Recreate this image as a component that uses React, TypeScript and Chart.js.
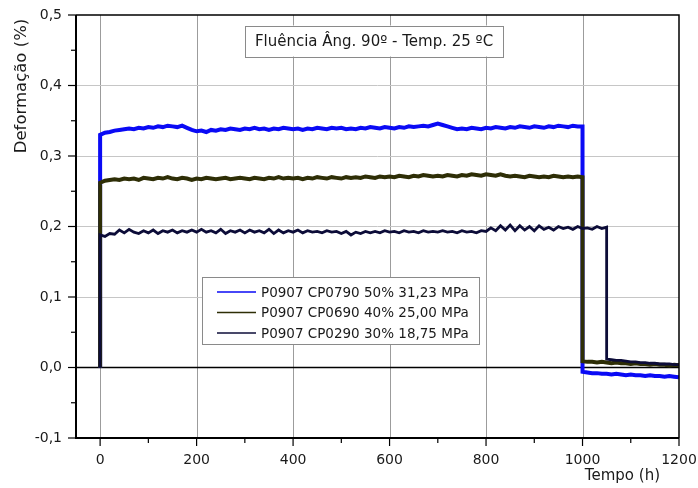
import React, { useEffect, useRef } from 'react';
import { Chart, registerables } from 'chart.js';

Chart.register(...registerables);

// ---- Data ----
const START_HOUR = 0;
const START_VALUE = 0;

const HOLD_HOURS = [
  0, 10, 20, 30, 40, 50, 60, 70, 80, 90,
  100, 110, 120, 130, 140, 150, 160, 170, 180, 190,
  200, 210, 220, 230, 240, 250, 260, 270, 280, 290,
  300, 310, 320, 330, 340, 350, 360, 370, 380, 390,
  400, 410, 420, 430, 440, 450, 460, 470, 480, 490,
  500, 510, 520, 530, 540, 550, 560, 570, 580, 590,
  600, 610, 620, 630, 640, 650, 660, 670, 680, 690,
  700, 710, 720, 730, 740, 750, 760, 770, 780, 790,
  800, 810, 820, 830, 840, 850, 860, 870, 880, 890,
  900, 910, 920, 930, 940, 950, 960, 970, 980, 990,
  1000,
];
const NAVY_EXTRA_HOLD_HOURS = [1010, 1020, 1030, 1040, 1050];

const RECOVERY_HOURS = [
  1000, 1010, 1020, 1030, 1040, 1050, 1060, 1070, 1080, 1090,
  1100, 1110, 1120, 1130, 1140, 1150, 1160, 1170, 1180, 1190, 1200,
];
const NAVY_RECOVERY_HOURS = [
  1050, 1060, 1070, 1080, 1090, 1100, 1110, 1120, 1130, 1140,
  1150, 1160, 1170, 1180, 1190, 1200,
];

const BLUE_HOLD = [
  0.330, 0.333, 0.334, 0.336, 0.337, 0.338, 0.339, 0.338, 0.340, 0.339,
  0.341, 0.340, 0.342, 0.341, 0.343, 0.342, 0.341, 0.343, 0.340, 0.337,
  0.335, 0.336, 0.334, 0.337, 0.336, 0.338, 0.337, 0.339, 0.338, 0.337,
  0.339, 0.338, 0.340, 0.338, 0.339, 0.337, 0.339, 0.338, 0.340, 0.339,
  0.338, 0.339, 0.337, 0.339, 0.338, 0.340, 0.339, 0.338, 0.340, 0.339,
  0.340, 0.338, 0.339, 0.338, 0.340, 0.339, 0.341, 0.340, 0.339, 0.341,
  0.340, 0.339, 0.341, 0.340, 0.342, 0.341, 0.342, 0.343, 0.342, 0.344,
  0.346, 0.344, 0.342, 0.340, 0.338, 0.339, 0.338, 0.340, 0.339, 0.338,
  0.340, 0.339, 0.341, 0.340, 0.339, 0.341, 0.340, 0.342, 0.341, 0.340,
  0.342, 0.341, 0.340, 0.342, 0.341, 0.343, 0.342, 0.341, 0.343, 0.342,
  0.342,
];
const BLUE_RECOVERY = [
  -0.006, -0.007, -0.008, -0.008, -0.009, -0.009, -0.010, -0.009, -0.010, -0.011,
  -0.010, -0.011, -0.011, -0.012, -0.011, -0.012, -0.012, -0.013, -0.012, -0.013, -0.014,
];

const OLIVE_HOLD = [
  0.262, 0.265, 0.266, 0.267, 0.266, 0.268, 0.267, 0.268, 0.266, 0.269,
  0.268, 0.267, 0.269, 0.268, 0.270, 0.268, 0.267, 0.269, 0.268, 0.266,
  0.268, 0.267, 0.269, 0.268, 0.267, 0.268, 0.269, 0.267, 0.268, 0.269,
  0.268, 0.267, 0.269, 0.268, 0.267, 0.269, 0.268, 0.270, 0.268, 0.269,
  0.268, 0.269, 0.267, 0.269, 0.268, 0.270, 0.269, 0.268, 0.270, 0.269,
  0.268, 0.270, 0.269, 0.270, 0.269, 0.271, 0.270, 0.269, 0.271, 0.270,
  0.271, 0.270, 0.272, 0.271, 0.270, 0.272, 0.271, 0.273, 0.272, 0.271,
  0.272, 0.271, 0.273, 0.272, 0.271, 0.273, 0.272, 0.274, 0.273, 0.272,
  0.274, 0.273, 0.272, 0.274, 0.272, 0.271, 0.272, 0.271, 0.270, 0.272,
  0.271, 0.270, 0.271, 0.270, 0.272, 0.271, 0.270, 0.271, 0.270, 0.271,
  0.270,
];
const OLIVE_RECOVERY = [
  0.009, 0.008, 0.008, 0.007, 0.008, 0.007, 0.006, 0.007, 0.006, 0.006,
  0.005, 0.006, 0.005, 0.005, 0.004, 0.005, 0.004, 0.004, 0.003, 0.004, 0.003,
];

const NAVY_HOLD = [
  0.188, 0.186, 0.190, 0.189, 0.195, 0.191, 0.196, 0.192, 0.190, 0.194,
  0.191, 0.195, 0.190, 0.194, 0.192, 0.195, 0.191, 0.194, 0.192, 0.195,
  0.192, 0.196, 0.192, 0.194, 0.191, 0.196, 0.190, 0.194, 0.192, 0.195,
  0.191, 0.195, 0.192, 0.194, 0.191, 0.196, 0.190, 0.195, 0.191, 0.194,
  0.192, 0.195, 0.191, 0.194, 0.192, 0.193, 0.191, 0.194, 0.192, 0.193,
  0.190, 0.193, 0.188, 0.192, 0.190, 0.193, 0.191, 0.193, 0.191, 0.194,
  0.192, 0.193, 0.191, 0.194, 0.192, 0.193, 0.191, 0.194, 0.192, 0.193,
  0.192, 0.194, 0.192, 0.193, 0.191, 0.194, 0.192, 0.193, 0.191, 0.194,
  0.193, 0.198, 0.194, 0.201, 0.195, 0.202, 0.194, 0.201, 0.195, 0.200,
  0.194, 0.201, 0.196, 0.199, 0.195, 0.200, 0.197, 0.199, 0.196, 0.200,
  0.197, 0.198, 0.196, 0.200, 0.197, 0.199,
];
const NAVY_RECOVERY = [
  0.012, 0.011, 0.010, 0.010, 0.009, 0.008, 0.008, 0.007, 0.007, 0.006,
  0.006, 0.005, 0.005, 0.005, 0.004, 0.004,
];

const SERIES_LABELS = [
  'P0907 CP0790 50% 31,23 MPa',
  'P0907 CP0690 40% 25,00 MPa',
  'P0907 CP0290 30% 18,75 MPa',
];
const SERIES_COLORS = ['#0a0af5', '#2e2e06', '#0c0c38'];

const X_TICKS = [0, 100, 200, 300, 400, 500, 600, 700, 800, 900, 1000, 1100, 1200];
const X_LABELED = [0, 200, 400, 600, 800, 1000, 1200];
const Y_TICKS = [-0.1, -0.05, 0, 0.05, 0.1, 0.15, 0.2, 0.25, 0.3, 0.35, 0.4, 0.45, 0.5];
const Y_LABELED = [-0.1, 0, 0.1, 0.2, 0.3, 0.4, 0.5];

const TITLE_TEXT = 'Fluência Âng. 90º - Temp. 25 ºC';
const X_TITLE = 'Tempo (h)';
const Y_TITLE = 'Deformação (%)';

const FONT = '"DejaVu Sans", Verdana, sans-serif';

function buildSeries(holdHours: number[], hold: number[], recHours: number[], rec: number[]) {
  const pts: { x: number; y: number }[] = [{ x: START_HOUR, y: START_VALUE }];
  holdHours.forEach((h, i) => pts.push({ x: h, y: hold[i] }));
  recHours.forEach((h, i) => pts.push({ x: h, y: rec[i] }));
  return pts;
}

const isIn = (list: number[], v: number) => list.some((l) => Math.abs(l - v) < 1e-6);

const decorPlugin = {
  id: 'decor',
  beforeDatasetsDraw(chart: any) {
    const { ctx, chartArea: a, scales } = chart;
    const x = scales.x;
    const y = scales.y;
    ctx.save();
    ctx.strokeStyle = '#9c9c9c';
    ctx.lineWidth = 1;
    X_LABELED.forEach((v) => {
      if (v === 1200) return;
      const px = Math.round(x.getPixelForValue(v)) + 0.5;
      ctx.beginPath();
      ctx.moveTo(px, a.top);
      ctx.lineTo(px, a.bottom);
      ctx.stroke();
    });
    ctx.strokeStyle = '#c6c6c6';
    Y_LABELED.forEach((v) => {
      if (v <= -0.1 + 1e-6 || v >= 0.5 - 1e-6 || Math.abs(v) < 1e-6) return;
      const py = Math.round(y.getPixelForValue(v)) + 0.5;
      ctx.beginPath();
      ctx.moveTo(a.left, py);
      ctx.lineTo(a.right, py);
      ctx.stroke();
    });
    ctx.strokeStyle = '#000';
    ctx.lineWidth = 1.5;
    const zy = y.getPixelForValue(0);
    ctx.beginPath();
    ctx.moveTo(a.left, zy);
    ctx.lineTo(a.right, zy);
    ctx.stroke();
    ctx.restore();
  },
  afterDatasetsDraw(chart: any) {
    const { ctx, chartArea: a, scales } = chart;
    const x = scales.x;
    const y = scales.y;
    ctx.save();
    ctx.strokeStyle = '#000';
    ctx.lineWidth = 1.5;
    ctx.beginPath();
    ctx.moveTo(a.left, a.top);
    ctx.lineTo(a.right, a.top);
    ctx.lineTo(a.right, a.bottom);
    ctx.stroke();
    ctx.lineWidth = 2;
    ctx.beginPath();
    ctx.moveTo(a.left, a.top);
    ctx.lineTo(a.left, a.bottom);
    ctx.lineTo(a.right, a.bottom);
    ctx.stroke();
    ctx.lineWidth = 1.2;
    X_TICKS.forEach((v) => {
      const px = x.getPixelForValue(v);
      const len = isIn(X_LABELED, v) ? 8 : 5;
      ctx.beginPath();
      ctx.moveTo(px, a.bottom);
      ctx.lineTo(px, a.bottom + len);
      ctx.stroke();
    });
    Y_TICKS.forEach((v) => {
      const py = y.getPixelForValue(v);
      const len = isIn(Y_LABELED, v) ? 8 : 5;
      ctx.beginPath();
      ctx.moveTo(a.left, py);
      ctx.lineTo(a.left - len, py);
      ctx.stroke();
    });

    // title box
    ctx.font = `15px ${FONT}`;
    const tw = ctx.measureText(TITLE_TEXT).width;
    const tcx = 374;
    const tcy = 41;
    const bw = tw + 20;
    const bh = 31;
    ctx.fillStyle = '#fff';
    ctx.fillRect(tcx - bw / 2, tcy - bh / 2, bw, bh);
    ctx.strokeStyle = '#8a8a8a';
    ctx.lineWidth = 1;
    ctx.strokeRect(Math.round(tcx - bw / 2) + 0.5, Math.round(tcy - bh / 2) + 0.5, Math.round(bw), bh);
    ctx.fillStyle = '#1a1a1a';
    ctx.textAlign = 'center';
    ctx.textBaseline = 'middle';
    ctx.fillText(TITLE_TEXT, tcx, tcy + 1);

    // legend box
    const lx = 202;
    const ly = 277;
    const lw = 277;
    const lh = 67;
    ctx.fillStyle = '#fff';
    ctx.fillRect(lx, ly, lw, lh);
    ctx.strokeStyle = '#8a8a8a';
    ctx.strokeRect(lx + 0.5, ly + 0.5, lw, lh);
    ctx.font = `13.5px ${FONT}`;
    ctx.textAlign = 'left';
    SERIES_LABELS.forEach((lab, i) => {
      const ry = 292 + i * 20.5;
      ctx.strokeStyle = SERIES_COLORS[i];
      ctx.lineWidth = 1.6;
      ctx.beginPath();
      ctx.moveTo(217, ry);
      ctx.lineTo(256, ry);
      ctx.stroke();
      ctx.fillStyle = '#1a1a1a';
      ctx.fillText(lab, 261, ry + 1);
    });

    // axis titles
    ctx.font = `15px ${FONT}`;
    ctx.fillStyle = '#1a1a1a';
    ctx.textAlign = 'right';
    ctx.textBaseline = 'middle';
    ctx.fillText(X_TITLE, 660, 476);
    ctx.save();
    ctx.translate(22, 86);
    ctx.rotate(-Math.PI / 2);
    ctx.textAlign = 'center';
    ctx.font = `16.5px ${FONT}`;
    ctx.fillText(Y_TITLE, 0, 0);
    ctx.restore();

    ctx.restore();
  },
};

export default function App() {
  const canvasRef = useRef<HTMLCanvasElement | null>(null);

  useEffect(() => {
    if (!canvasRef.current) return;
    const blue = buildSeries(HOLD_HOURS, BLUE_HOLD, RECOVERY_HOURS, BLUE_RECOVERY);
    const olive = buildSeries(HOLD_HOURS, OLIVE_HOLD, RECOVERY_HOURS, OLIVE_RECOVERY);
    const navy = buildSeries(
      [...HOLD_HOURS, ...NAVY_EXTRA_HOLD_HOURS],
      NAVY_HOLD,
      NAVY_RECOVERY_HOURS,
      NAVY_RECOVERY,
    );
    const chart = new Chart(canvasRef.current, {
      type: 'line',
      data: {
        datasets: [
          { label: SERIES_LABELS[0], data: blue, borderColor: SERIES_COLORS[0], borderWidth: 4, pointRadius: 0, order: 2, tension: 0 },
          { label: SERIES_LABELS[1], data: olive, borderColor: SERIES_COLORS[1], borderWidth: 4, pointRadius: 0, order: 1, tension: 0 },
          { label: SERIES_LABELS[2], data: navy, borderColor: SERIES_COLORS[2], borderWidth: 2.8, pointRadius: 0, order: 0, tension: 0 },
        ],
      },
      options: {
        animation: false,
        responsive: true,
        maintainAspectRatio: false,
        parsing: false,
        layout: { padding: { top: 15, right: 19, left: 0, bottom: 0 } },
        plugins: { legend: { display: false }, tooltip: { enabled: false } },
        scales: {
          x: {
            type: 'linear',
            min: -50,
            max: 1200,
            afterBuildTicks: (s: any) => { s.ticks = X_TICKS.map((v) => ({ value: v })); },
            afterFit: (s: any) => { s.height = 50; },
            grid: { display: true, drawOnChartArea: false, drawTicks: true, tickLength: 14, color: 'rgba(0,0,0,0)', tickColor: 'rgba(0,0,0,0)' },
            border: { display: false },
            ticks: {
              autoSkip: false,
              maxRotation: 0,
              padding: 0,
              color: '#1a1a1a',
              font: { family: FONT, size: 14 },
              callback: (v: any) => (isIn(X_LABELED, Number(v)) ? String(v) : ''),
            },
          },
          y: {
            type: 'linear',
            min: -0.1,
            max: 0.5,
            afterBuildTicks: (s: any) => { s.ticks = Y_TICKS.map((v) => ({ value: v })); },
            afterFit: (s: any) => { s.width = 76; },
            grid: { display: true, drawOnChartArea: false, drawTicks: true, tickLength: 8, color: 'rgba(0,0,0,0)', tickColor: 'rgba(0,0,0,0)' },
            border: { display: false },
            ticks: {
              autoSkip: false,
              padding: 6,
              color: '#1a1a1a',
              font: { family: FONT, size: 14 },
              callback: (v: any) => {
                const n = Number(v);
                if (!isIn(Y_LABELED, n)) return '';
                return n.toFixed(1).replace('.', ',');
              },
            },
          },
        },
      },
      plugins: [decorPlugin],
    } as any);
    return () => chart.destroy();
  }, []);

  return (
    <div style={{ position: 'fixed', left: 0, top: 0, width: 698, height: 488, background: '#fff' }}>
      <canvas ref={canvasRef} />
    </div>
  );
}
